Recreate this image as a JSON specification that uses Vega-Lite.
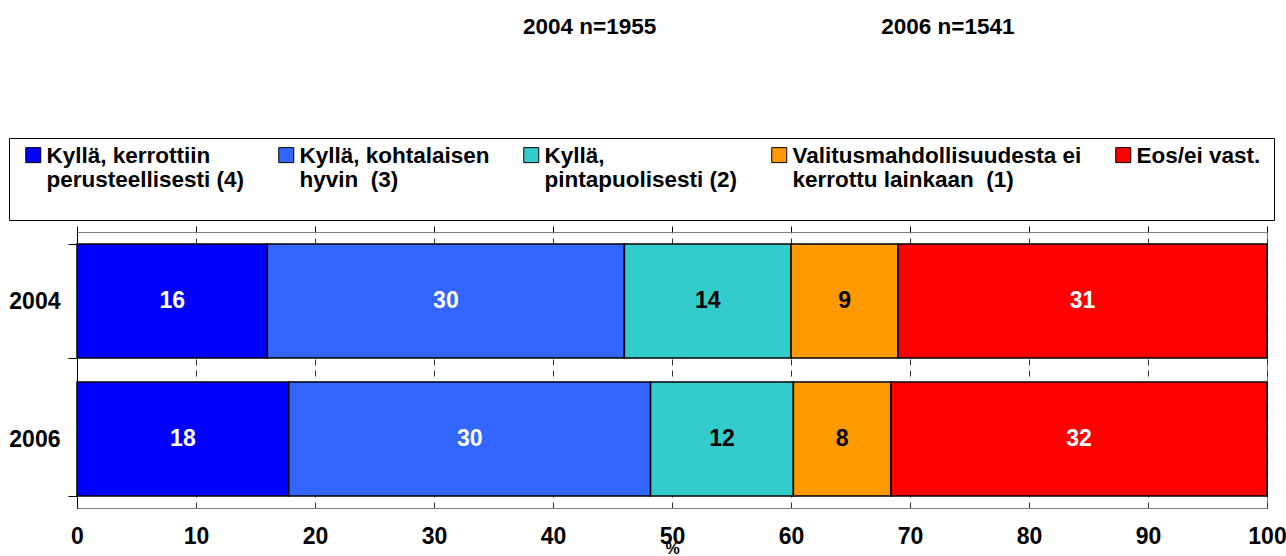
{
  "$schema": "https://vega.github.io/schema/vega-lite/v6.json",
  "autosize": {"type": "none"},
  "width": 1190,
  "height": 276,
  "padding": {"left": 77, "top": 232, "right": 19, "bottom": 48},
  "background": "white",
  "config": {
    "font": "Liberation Sans",
    "view": {"stroke": "#808080", "strokeWidth": 1}
  },
  "title": {
    "text": "2004 n=1955\u00a0\u00a0\u00a0\u00a0\u00a0\u00a0\u00a0\u00a0\u00a0\u00a0\u00a0\u00a0\u00a0\u00a0\u00a0\u00a0\u00a0\u00a0\u00a0\u00a0\u00a0\u00a0\u00a0\u00a0\u00a0\u00a0\u00a0\u00a0\u00a0\u00a0\u00a0\u00a0\u00a0\u00a0\u00a0\u00a02006 n=1541",
    "anchor": "start",
    "frame": "group",
    "dx": 446,
    "offset": 99,
    "font": "Liberation Sans",
    "fontSize": 22.5,
    "fontWeight": "bold",
    "color": "black"
  },
  "data": {
    "values": [
      {"year": "2004", "cat": "Kyllä, kerrottiin\nperusteellisesti (4)", "o": 1, "v": 16},
      {"year": "2004", "cat": "Kyllä, kohtalaisen\nhyvin\u00a0 (3)", "o": 2, "v": 30},
      {"year": "2004", "cat": "Kyllä,\npintapuolisesti (2)", "o": 3, "v": 14},
      {"year": "2004", "cat": "Valitusmahdollisuudesta ei\nkerrottu lainkaan\u00a0 (1)", "o": 4, "v": 9},
      {"year": "2004", "cat": "Eos/ei vast.", "o": 5, "v": 31},
      {"year": "2006", "cat": "Kyllä, kerrottiin\nperusteellisesti (4)", "o": 1, "v": 17.8},
      {"year": "2006", "cat": "Kyllä, kohtalaisen\nhyvin\u00a0 (3)", "o": 2, "v": 30.4},
      {"year": "2006", "cat": "Kyllä,\npintapuolisesti (2)", "o": 3, "v": 12.0},
      {"year": "2006", "cat": "Valitusmahdollisuudesta ei\nkerrottu lainkaan\u00a0 (1)", "o": 4, "v": 8.2},
      {"year": "2006", "cat": "Eos/ei vast.", "o": 5, "v": 31.6}
    ]
  },
  "encoding": {
    "y": {
      "field": "year",
      "type": "nominal",
      "scale": {"paddingInner": 0.174, "paddingOuter": 0.087},
      "axis": {
        "title": null,
        "tickBand": "extent",
        "tickSize": 9,
        "tickColor": "black",
        "domainColor": "black",
        "labelFontSize": 23,
        "labelFontWeight": "bold",
        "labelColor": "black",
        "labelPadding": 8,
        "labelFont": "Liberation Sans"
      }
    }
  },
  "layer": [
    {
      "mark": {"type": "bar", "stroke": "black", "strokeWidth": 1.5},
      "encoding": {
        "x": {
          "field": "v",
          "type": "quantitative",
          "stack": "zero",
          "scale": {"domain": [0, 100], "nice": false},
          "axis": {
            "orient": "bottom",
            "title": "%",
            "titleFontSize": 16,
            "titleFontWeight": "bold",
            "titleColor": "black",
            "titlePadding": -8,
            "values": [0, 10, 20, 30, 40, 50, 60, 70, 80, 90, 100],
            "ticks": false,
            "labelFlush": false,
            "labelOverlap": false,
            "labelPadding": 17,
            "labelFontSize": 23,
            "labelFontWeight": "bold",
            "labelColor": "black",
            "labelFont": "Liberation Sans",
            "domainColor": "#808080",
            "grid": true,
            "gridColor": "#303030",
            "gridDash": [6, 5],
            "gridOpacity": 1,
            "gridWidth": 1
          }
        },
        "color": {
          "field": "cat",
          "type": "nominal",
          "scale": {
            "domain": [
              "Kyllä, kerrottiin\nperusteellisesti (4)",
              "Kyllä, kohtalaisen\nhyvin\u00a0 (3)",
              "Kyllä,\npintapuolisesti (2)",
              "Valitusmahdollisuudesta ei\nkerrottu lainkaan\u00a0 (1)",
              "Eos/ei vast."
            ],
            "range": ["#0000FF", "#3366FF", "#33CCCC", "#FF9900", "#FF0000"]
          },
          "legend": {
            "orient": "none",
            "legendX": -68,
            "legendY": -94,
            "direction": "horizontal",
            "columns": 5,
            "columnPadding": 30,
            "title": null,
            "padding": 13,
            "strokeColor": "black",
            "fillColor": "white",
            "symbolType": "M-1,-2H1V0H-1ZM0,5.6",
            "symbolSize": 225,
            "symbolStrokeColor": "black",
            "symbolStrokeWidth": 1,
            "symbolOpacity": 1,
            "labelOffset": 2,
            "labelFontSize": 22.5,
            "labelFontWeight": "bold",
            "labelColor": "black",
            "labelFont": "Liberation Sans",
            "labelLimit": 500,
            "labelBaseline": "alphabetic",
            "labelExpr": "split(datum.label, '\\n')"
          }
        },
        "order": {"field": "o", "type": "quantitative"}
      }
    },
    {
      "mark": {"type": "text", "fontSize": 23, "fontWeight": "bold", "font": "Liberation Sans"},
      "encoding": {
        "x": {
          "field": "v",
          "type": "quantitative",
          "stack": "zero",
          "bandPosition": 0.5,
          "axis": {
            "orient": "top",
            "title": null,
            "labels": false,
            "values": [0, 10, 20, 30, 40, 50, 60, 70, 80, 90, 100],
            "ticks": true,
            "tickSize": 6,
            "tickColor": "black",
            "domainColor": "#808080",
            "grid": false
          }
        },
        "detail": {"field": "cat"},
        "order": {"field": "o", "type": "quantitative"},
        "text": {"field": "v", "type": "quantitative", "format": ".0f"},
        "color": {
          "condition": {"test": "datum.o == 3 || datum.o == 4", "value": "black"},
          "value": "white"
        }
      }
    }
  ],
  "resolve": {"axis": {"x": "independent"}}
}
